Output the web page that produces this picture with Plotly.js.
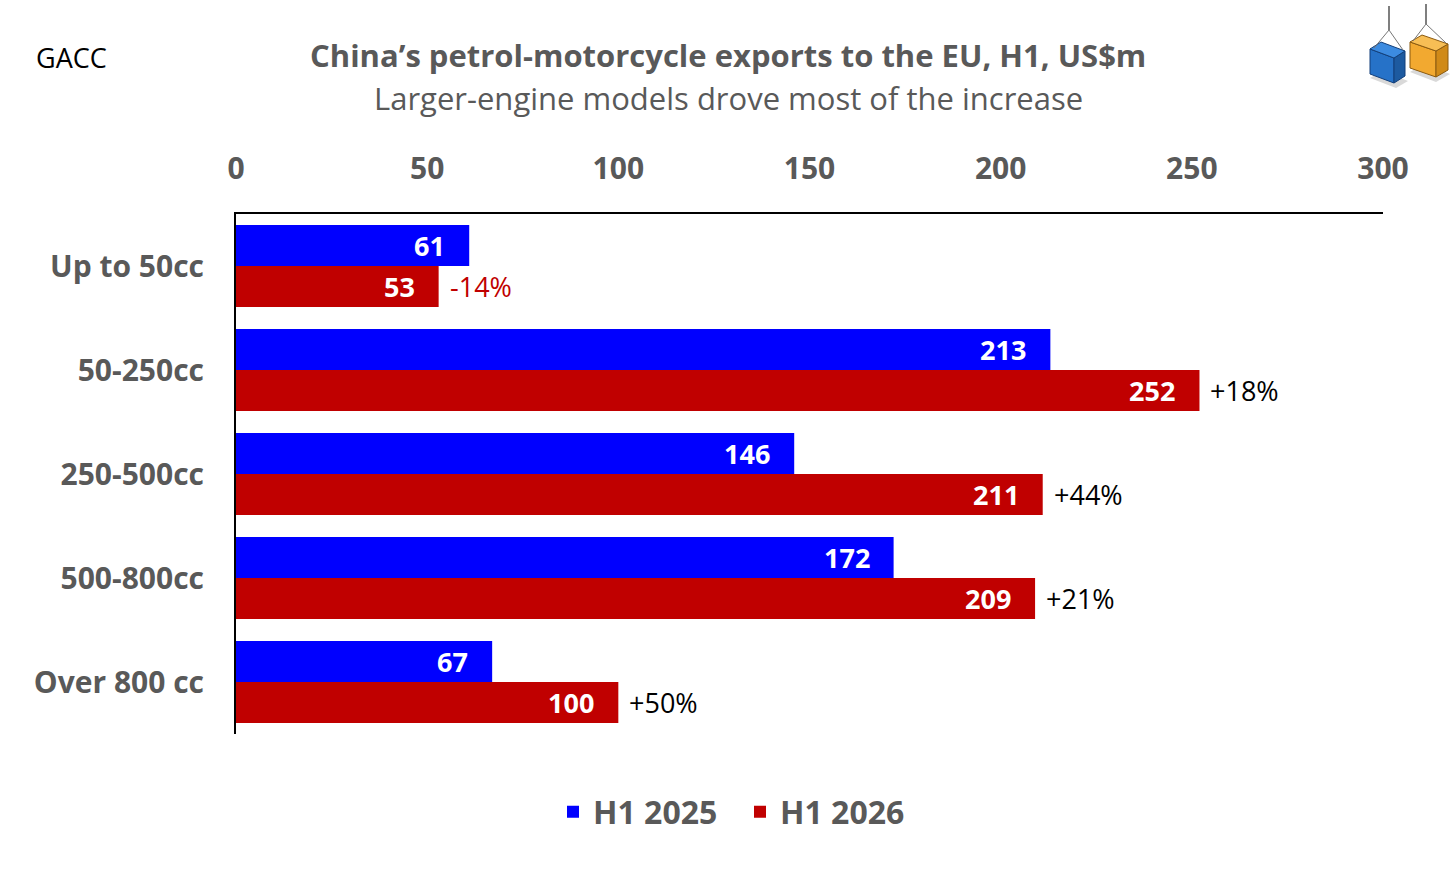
<!DOCTYPE html>
<html>
<head>
<meta charset="utf-8">
<script src="https://cdn.plot.ly/plotly-3.0.1.min.js"></script>
<style>html,body{margin:0;padding:0;background:#fff;}#chart{width:1456px;height:870px;}</style>
</head>
<body>
<div id="chart"></div>
<script>
const categories = ["Up to 50cc", "50-250cc", "250-500cc", "500-800cc", "Over 800 cc"];
const h1_2025 = [61, 213, 146, 172, 67];
const h1_2026 = [53, 252, 211, 209, 100];
const changeLabels = ["-14%", "+18%", "+44%", "+21%", "+50%"];
const xTicks = [0, 50, 100, 150, 200, 250, 300];

const FONT = "'Open Sans', 'Noto Sans', sans-serif";
const GREY = "#595959";
const BLUE = "#0000FF";
const RED = "#C00000";

// pixel -> paper helpers (plot area: x 236..1383, y 214..734)
const px = x => (x - 236) / 1147;
const py = y => (734 - y) / 520;

const traces = [
  {type: "bar", orientation: "h", name: "H1 2025", y: categories, x: h1_2025,
   marker: {color: BLUE}, hoverinfo: "x"},
  {type: "bar", orientation: "h", name: "H1 2026", y: categories, x: h1_2026,
   marker: {color: RED}, hoverinfo: "x"}
];

const annotations = [];
categories.forEach((c, i) => {
  annotations.push({x: h1_2025[i], y: c, xref: "x", yref: "y", text: "<b>" + h1_2025[i] + "</b>",
    showarrow: false, xanchor: "right", xshift: -22, yshift: 20.5,
    font: {family: FONT, size: 27, color: "#ffffff"}});
  annotations.push({x: h1_2026[i], y: c, xref: "x", yref: "y", text: "<b>" + h1_2026[i] + "</b>",
    showarrow: false, xanchor: "right", xshift: -22, yshift: -20.5,
    font: {family: FONT, size: 27, color: "#ffffff"}});
  annotations.push({x: h1_2026[i], y: c, xref: "x", yref: "y", text: changeLabels[i],
    showarrow: false, xanchor: "left", xshift: 9, yshift: -20,
    font: {family: FONT, size: 27, color: changeLabels[i].startsWith("-") ? RED : "#000000"}});
});

annotations.push({xref: "paper", yref: "paper", x: px(728), y: py(55), text: "<b>China’s petrol-motorcycle exports to the EU, H1, US$m</b>",
  showarrow: false, xanchor: "center", yanchor: "middle", font: {family: FONT, size: 31, color: GREY}});
annotations.push({xref: "paper", yref: "paper", x: px(728), y: py(98), text: "Larger-engine models drove most of the increase",
  showarrow: false, xanchor: "center", yanchor: "middle", font: {family: FONT, size: 31, color: GREY}});
annotations.push({xref: "paper", yref: "paper", x: px(34), y: py(58), text: "GACC",
  showarrow: false, xanchor: "left", yanchor: "middle", font: {family: FONT, size: 27, color: "#000000"}});

// simple decorative logo (two hanging containers)
const P = pts => "M " + pts.map(p => px(p[0]) + " " + py(p[1])).join(" L ") + " Z";
const shapes = [
  {type: "path", xref: "paper", yref: "paper", path: P([[1370,78],[1396,88],[1408,81],[1383,71]]), fillcolor: "#d9d9d9", line: {width: 0}},
  {type: "path", xref: "paper", yref: "paper", path: P([[1370,49],[1394,58],[1394,83],[1370,74]]), fillcolor: "#2672C8", line: {color: "#123f7a", width: 1}},
  {type: "path", xref: "paper", yref: "paper", path: P([[1394,58],[1405,51],[1405,76],[1394,83]]), fillcolor: "#1D5AA0", line: {color: "#123f7a", width: 1}},
  {type: "path", xref: "paper", yref: "paper", path: P([[1370,49],[1381,42],[1405,51],[1394,58]]), fillcolor: "#3C8BE0", line: {color: "#123f7a", width: 1}},
  {type: "path", xref: "paper", yref: "paper", path: P([[1410,72],[1436,82],[1450,74],[1424,64]]), fillcolor: "#d9d9d9", line: {width: 0}},
  {type: "path", xref: "paper", yref: "paper", path: P([[1410,42],[1436,51],[1436,77],[1410,68]]), fillcolor: "#F2A930", line: {color: "#8a5a10", width: 1}},
  {type: "path", xref: "paper", yref: "paper", path: P([[1436,51],[1448,44],[1448,70],[1436,77]]), fillcolor: "#D08A18", line: {color: "#8a5a10", width: 1}},
  {type: "path", xref: "paper", yref: "paper", path: P([[1410,42],[1422,35],[1448,44],[1436,51]]), fillcolor: "#F7BE55", line: {color: "#8a5a10", width: 1}},
  {type: "line", xref: "paper", yref: "paper", x0: px(1389), x1: px(1389), y0: py(30), y1: py(6), line: {color: "#555", width: 1.5}},
  {type: "line", xref: "paper", yref: "paper", x0: px(1389), x1: px(1374), y0: py(30), y1: py(48), line: {color: "#777", width: 1}},
  {type: "line", xref: "paper", yref: "paper", x0: px(1389), x1: px(1403), y0: py(30), y1: py(50), line: {color: "#777", width: 1}},
  {type: "line", xref: "paper", yref: "paper", x0: px(1426), x1: px(1426), y0: py(24), y1: py(4), line: {color: "#555", width: 1.5}},
  {type: "line", xref: "paper", yref: "paper", x0: px(1426), x1: px(1413), y0: py(24), y1: py(41), line: {color: "#777", width: 1}},
  {type: "line", xref: "paper", yref: "paper", x0: px(1426), x1: px(1446), y0: py(24), y1: py(43), line: {color: "#777", width: 1}}
];

const layout = {
  width: 1456, height: 870,
  paper_bgcolor: "#ffffff", plot_bgcolor: "#ffffff",
  margin: {l: 236, r: 73, t: 214, b: 136},
  barmode: "group", bargap: 0.21, bargroupgap: 0,
  showlegend: true,
  legend: {orientation: "h", x: px(740), xanchor: "center", y: py(812), yanchor: "middle",
    font: {family: FONT, size: 32, color: GREY, weight: "bold"}, traceorder: "normal",
    itemwidth: 30, entrywidth: 142},
  xaxis: {side: "top", range: [0, 300], tickvals: xTicks, ticktext: xTicks.map(String),
    showgrid: false, zeroline: false, showline: true, linecolor: "#000000", linewidth: 2,
    ticks: "", ticklabelstandoff: 21,
    tickfont: {family: FONT, size: 30, color: GREY, weight: "bold"}},
  yaxis: {autorange: "reversed", showgrid: false, zeroline: false, showline: true, linecolor: "#000000", linewidth: 2,
    ticks: "", ticklabelstandoff: 24,
    tickfont: {family: FONT, size: 30, color: GREY, weight: "bold"}},
  annotations: annotations,
  shapes: shapes
};

Plotly.newPlot("chart", traces, layout, {staticPlot: true, displayModeBar: false});
</script>
</body>
</html>
